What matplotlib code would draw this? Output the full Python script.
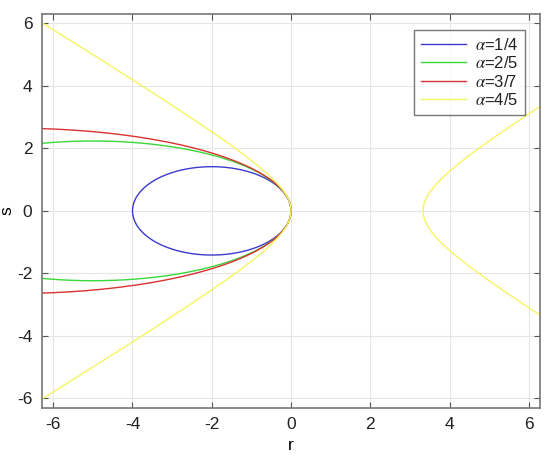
import numpy as np
import matplotlib
matplotlib.use('Agg')
import matplotlib.pyplot as plt

plt.rcParams['axes.unicode_minus'] = False
plt.rcParams['mathtext.fontset'] = 'stix'

# curve family: s^2 = -2 r + (2*alpha - 1) r^2
alpha_num = [1, 2, 3, 4]
alpha_den = [4, 5, 7, 5]
linear_coef = -2.0
colors = ['#3a3acc', '#3ad83a', '#d83232', '#f5f560']

r_min, r_max = -2 * np.pi, 2 * np.pi
xticks = [-6, -4, -2, 0, 2, 4, 6]
yticks = [-6, -4, -2, 0, 2, 4, 6]

fig = plt.figure(figsize=(5.5, 4.65), dpi=100)
ax = fig.add_axes([0.0764, 0.1232, 0.9054, 0.8467])

for num, den, col in zip(alpha_num, alpha_den, colors):
    a = num / den
    b = 2 * a - 1
    r = np.linspace(r_min, r_max, 4001)
    # add the zeros of the curve so the ellipse closes
    zeros = [0.0]
    if b != 0:
        zeros.append(-linear_coef / b)
    r = np.sort(np.concatenate([r, [z for z in zeros if r_min <= z <= r_max]]))
    s2 = linear_coef * r + b * r ** 2
    ok = s2 >= -1e-12
    s = np.sqrt(np.clip(s2, 0, None))
    idx = np.where(ok)[0]
    breaks = np.where(np.diff(idx) > 1)[0]
    segs = np.split(idx, breaks + 1)
    first = True
    for seg in segs:
        if seg[0] == 0:
            rr = np.concatenate([r[seg], r[seg][::-1]])
            ss = np.concatenate([s[seg], -s[seg][::-1]])
        else:
            rr = np.concatenate([r[seg][::-1], r[seg]])
            ss = np.concatenate([s[seg][::-1], -s[seg]])
        ax.plot(rr, ss, color=col, lw=1.0,
                label=r'$\alpha$=%d/%d' % (num, den) if first else None)
        first = False

ax.set_xlim(r_min, r_max)
ax.set_ylim(-6.3, 6.3)
ax.set_xticks(xticks)
ax.set_yticks(yticks)
ax.grid(True, color='#e6e6e6', lw=0.8)
ax.set_axisbelow(True)
ax.tick_params(direction='in', length=4, color='#555555', labelsize=12.5,
               top=True, right=True, pad=7)
for sp in ax.spines.values():
    sp.set_color('#777777')
    sp.set_linewidth(1.2)
for lab in ax.get_xticklabels() + ax.get_yticklabels():
    lab.set_fontfamily('Liberation Sans')
    lab.set_color('#222222')

ax.set_xlabel('r', fontsize=12.5, fontfamily='Liberation Sans', labelpad=4)
ax.set_ylabel('s', fontsize=12.5, fontfamily='Liberation Sans', labelpad=2)

leg = ax.legend(loc='upper right', fontsize=12, frameon=True, fancybox=False,
                edgecolor='#555555', handlelength=2.7, borderpad=0.4,
                labelspacing=0.15, handletextpad=0.55, borderaxespad=0,
                bbox_to_anchor=(0.970, 0.959))
leg.get_frame().set_linewidth(1.0)
for t in leg.get_texts():
    t.set_fontfamily('Liberation Sans')
    t.set_color('#222222')

fig.savefig('out.png', dpi=100)
